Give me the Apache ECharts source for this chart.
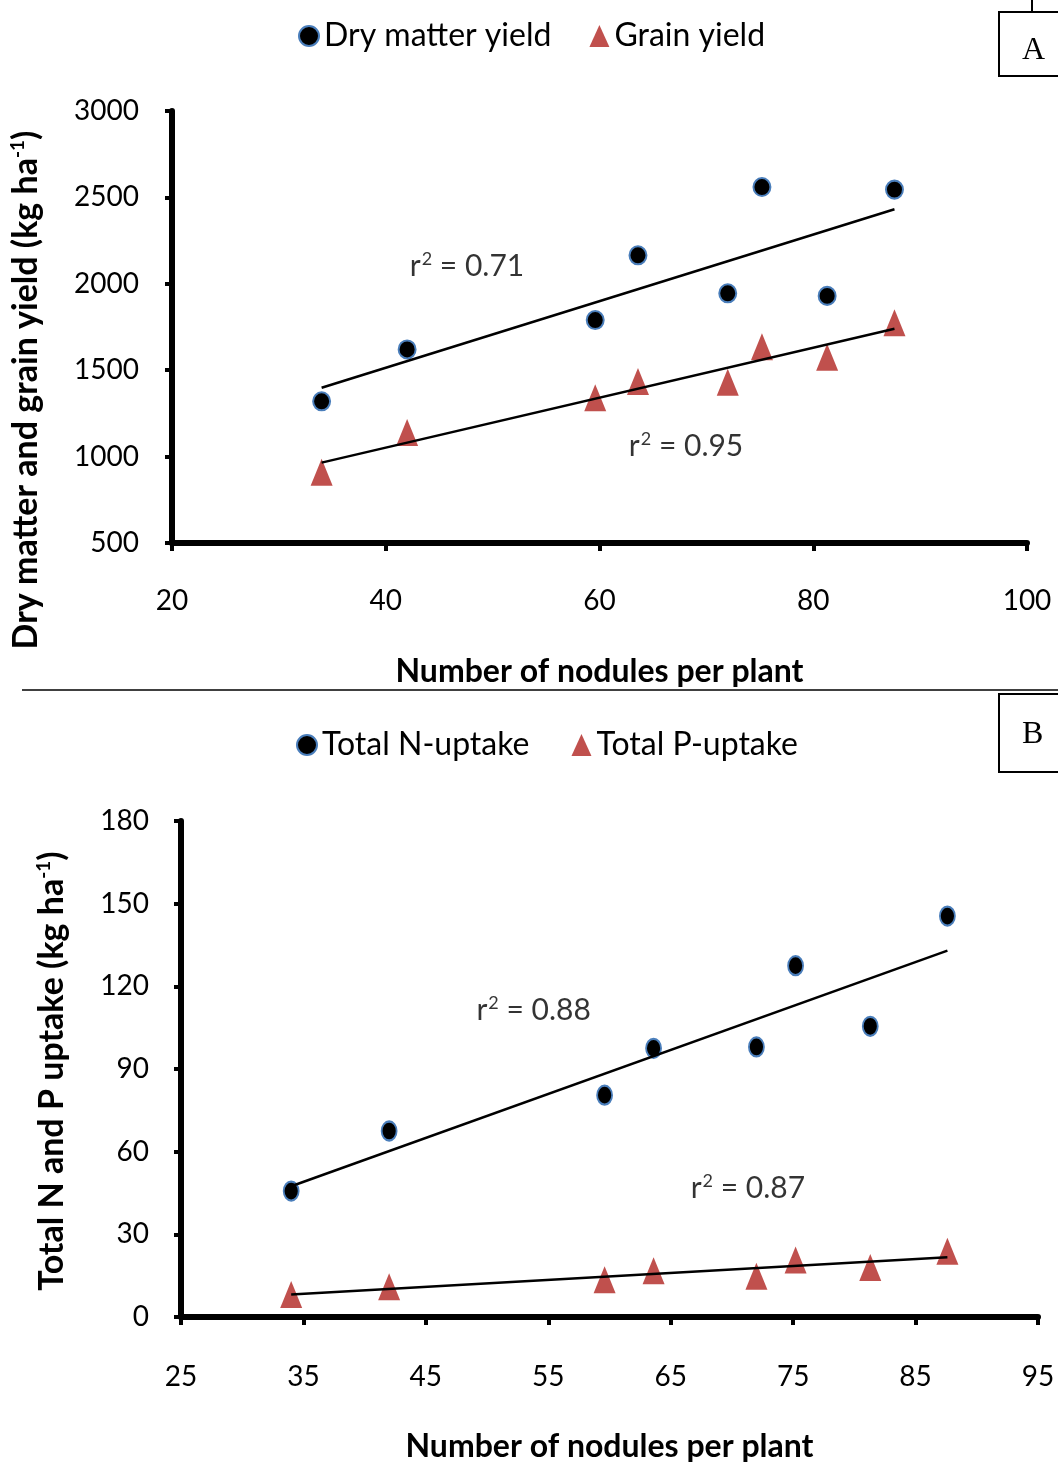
<!DOCTYPE html>
<html>
<head>
<meta charset="utf-8">
<script src="https://cdn.jsdelivr.net/npm/echarts@6/dist/echarts.min.js"></script>
<style>
html,body{margin:0;padding:0;background:#fff;}
#chart{width:1058px;height:1465px;}
</style>
</head>
<body>
<div id="chart"></div>
<script>
// ---- Data ----
const nodules = [34, 42, 59.6, 63.6, 72, 75.2, 81.3, 87.6];
const dryMatterYield = [1320, 1620, 1790, 2165, 1945, 2560, 1930, 2545];
const grainYield = [910, 1140, 1340, 1435, 1430, 1635, 1575, 1775];
const totalNUptake = [45.7, 67.5, 80.5, 97.5, 98, 127.5, 105.5, 145.5];
const totalPUptake = [8.2, 11, 13.5, 16.8, 14.8, 20.7, 18, 23.9];
const r2Values = ['0.71', '0.95', '0.88', '0.87'];
const topXTicks = [20, 40, 60, 80, 100];
const topYTicks = [500, 1000, 1500, 2000, 2500, 3000];
const botXTicks = [25, 35, 45, 55, 65, 75, 85, 95];
const botYTicks = [0, 30, 60, 90, 120, 150, 180];

// least-squares trend line over the observed x-range
function trend(xs, ys) {
  const n = xs.length;
  const mx = xs.reduce((a, b) => a + b, 0) / n;
  const my = ys.reduce((a, b) => a + b, 0) / n;
  let sxy = 0, sxx = 0;
  for (let i = 0; i < n; i++) { sxy += (xs[i] - mx) * (ys[i] - my); sxx += (xs[i] - mx) ** 2; }
  const b = sxy / sxx, a = my - b * mx;
  const x0 = Math.min(...xs), x1 = Math.max(...xs);
  return [[x0, a + b * x0], [x1, a + b * x1]];
}
const pairs = (xs, ys) => xs.map((x, i) => [x, ys[i]]);

const FONT = 'Lato';
const BLUE = '#4A7EBB', RED = '#C0504D';

function xAxis(idx, min, max, interval, margin, nameGap) {
  return {
    type: 'value', gridIndex: idx, min, max, interval,
    name: 'Number of nodules per plant', nameLocation: 'middle', nameGap,
    nameTextStyle: { fontFamily: FONT, fontWeight: 'bold', fontSize: 32, color: '#000' },
    axisLine: { lineStyle: { color: '#000', width: 6 } },
    axisTick: { length: 8, lineStyle: { color: '#000', width: 4 } },
    axisLabel: { fontFamily: FONT, fontSize: 28, color: '#000', margin, formatter: v => String(v) },
    splitLine: { show: false }
  };
}
function yAxis(idx, min, max, interval, name, nameGap, margin, namePadding) {
  return {
    type: 'value', gridIndex: idx, min, max, interval,
    name, nameLocation: 'middle', nameGap, nameRotate: 90,
    nameTextStyle: {
      padding: namePadding,
      rich: {
        b: { fontFamily: FONT, fontWeight: 'bold', fontSize: 34, color: '#000', lineHeight: 36 },
        sup: { fontFamily: FONT, fontWeight: 'bold', fontSize: 19, color: '#000', verticalAlign: 'top', lineHeight: 36 }
      }
    },
    axisLine: { lineStyle: { color: '#000', width: 6 } },
    axisTick: { length: 7, lineStyle: { color: '#000', width: 4 } },
    axisLabel: { fontFamily: FONT, fontSize: 28, color: '#000', margin, formatter: v => String(v) },
    splitLine: { show: false }
  };
}
function circleSeries(name, xi, data, size) {
  return { name, type: 'scatter', xAxisIndex: xi, yAxisIndex: xi, data, symbol: 'circle', symbolSize: size,
    itemStyle: { color: '#000', borderColor: BLUE, borderWidth: 2, opacity: 1 }, z: 5 };
}
function triSeries(name, xi, data) {
  return { name, type: 'scatter', xAxisIndex: xi, yAxisIndex: xi, data, symbol: 'triangle', symbolSize: [22, 27],
    itemStyle: { color: RED, opacity: 1 }, z: 4 };
}
function lineSeries(xi, data) {
  return { type: 'line', xAxisIndex: xi, yAxisIndex: xi, data, showSymbol: false, symbol: 'none',
    lineStyle: { color: '#000', width: 2.5 }, z: 6, silent: true };
}
function labelSeries(xi, pt, value) {
  return { type: 'scatter', xAxisIndex: xi, yAxisIndex: xi, data: [pt], symbolSize: 0, silent: true,
    label: { show: true, position: 'inside', formatter: '{t|r}{s|2}{t| = ' + value + '}',
      rich: {
        t: { fontFamily: FONT, fontSize: 30, color: '#000', lineHeight: 32 },
        s: { fontFamily: FONT, fontSize: 18, color: '#000', verticalAlign: 'top', lineHeight: 32, padding: [0, 0, 0, 1] }
      } }, z: 7 };
}

const legendText = { fontFamily: FONT, fontSize: 32, color: '#000' };

const option = {
  backgroundColor: '#fff',
  animation: false,
  grid: [
    { left: 171, right: 31, top: 111, height: 432 },
    { left: 181, right: 20, top: 821, height: 496 }
  ],
  legend: [
    { data: ['Dry matter yield', 'Grain yield'], left: 298, top: 20, padding: 0, itemGap: 38,
      itemWidth: 20, itemHeight: 22, textStyle: legendText },
    { data: ['Total N-uptake', 'Total P-uptake'], left: 296, top: 729, padding: 0, itemGap: 42,
      itemWidth: 20, itemHeight: 22, textStyle: legendText }
  ],
  xAxis: [
    xAxis(0, topXTicks[0], topXTicks[topXTicks.length - 1], 20, 44, 113),
    xAxis(1, botXTicks[0], botXTicks[botXTicks.length - 1], 10, 46, 114)
  ],
  yAxis: [
    yAxis(0, topYTicks[0], topYTicks[topYTicks.length - 1], 500,
      '{b|Dry matter and grain yield (kg ha}{sup|-1}{b|)}', 128, 33, [0, 126, 0, 0]),
    yAxis(1, botYTicks[0], botYTicks[botYTicks.length - 1], 30,
      '{b|Total N and P uptake (kg ha}{sup|-1}{b|)}', 111, 32, [0, 4, 0, 0])
  ],
  series: [
    lineSeries(0, trend(nodules, dryMatterYield)),
    lineSeries(0, trend(nodules, grainYield)),
    circleSeries('Dry matter yield', 0, pairs(nodules, dryMatterYield), [17, 18]),
    triSeries('Grain yield', 0, pairs(nodules, grainYield)),
    labelSeries(0, [47.6, 2103], r2Values[0]),
    labelSeries(0, [68.1, 1061], r2Values[1]),
    lineSeries(1, trend(nodules, totalNUptake)),
    lineSeries(1, trend(nodules, totalPUptake)),
    circleSeries('Total N-uptake', 1, pairs(nodules, totalNUptake), [15, 19]),
    triSeries('Total P-uptake', 1, pairs(nodules, totalPUptake)),
    labelSeries(1, [53.8, 111.4], r2Values[2]),
    labelSeries(1, [71.3, 46.8], r2Values[3])
  ],
  graphic: [
    { type: 'line', shape: { x1: 22, y1: 690, x2: 1058, y2: 690 }, style: { stroke: '#000', lineWidth: 1.5 } },
    { type: 'rect', shape: { x: 999, y: 12, width: 70, height: 64 }, style: { fill: '#fff', stroke: '#000', lineWidth: 2 } },
    { type: 'line', shape: { x1: 1032, y1: 0, x2: 1032, y2: 12 }, style: { stroke: '#000', lineWidth: 2 } },
    { type: 'text', left: 1022, top: 35, style: { text: 'A', font: '32px "Liberation Serif", serif', fill: '#000' } },
    { type: 'rect', shape: { x: 999, y: 694, width: 70, height: 78 }, style: { fill: '#fff', stroke: '#000', lineWidth: 2 } },
    { type: 'text', left: 1022, top: 719, style: { text: 'B', font: '32px "Liberation Serif", serif', fill: '#000' } }
  ]
};

const chart = echarts.init(document.getElementById('chart'), null, { renderer: 'canvas' });
chart.setOption(option);
</script>
</body>
</html>
